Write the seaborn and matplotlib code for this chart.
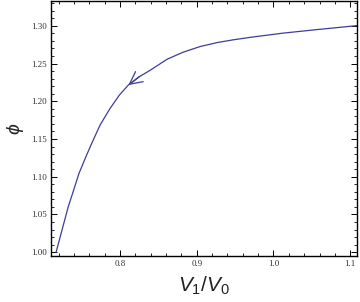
import numpy as np
import pandas as pd
import matplotlib
matplotlib.use("Agg")
import matplotlib.pyplot as plt
import seaborn as sns
from matplotlib.ticker import MultipleLocator

sns.set_theme(style="ticks")
plt.rcParams["mathtext.fontset"] = "custom"
plt.rcParams["mathtext.it"] = "Liberation Sans:italic"
plt.rcParams["mathtext.rm"] = "Liberation Sans"

# values
v_ratio = [0.7166, 0.7322, 0.7465, 0.7563, 0.7639, 0.7739, 0.7870, 0.7991,
           0.8108, 0.8250, 0.8391, 0.8613, 0.8821, 0.9043, 0.9265, 0.9473,
           0.9695, 1.0125, 1.0568, 1.1103]
phi = [1.000, 1.0593, 1.1045, 1.1285, 1.1461, 1.1684, 1.1906, 1.2082,
       1.2215, 1.2325, 1.2410, 1.2557, 1.2650, 1.2725, 1.2778, 1.2814,
       1.2847, 1.2903, 1.2950, 1.3004]
arrow_tip = (0.8108, 1.2215)
arrow_tail = (0.8250, 1.2325)

df = pd.DataFrame({"V": v_ratio, "phi": phi})
line_color = "#3d3d99"

fig = plt.figure(figsize=(3.6, 3.02), dpi=100)
ax = fig.add_axes([0.1417, 0.1523, 0.8503, 0.8447])
sns.lineplot(data=df, x="V", y="phi", sort=False, color=line_color, lw=0.9, ax=ax)
ax.annotate("", xy=arrow_tip, xytext=arrow_tail,
            arrowprops=dict(arrowstyle="->,head_length=0.75,head_width=0.38",
                            color=line_color, lw=0.9, shrinkA=0, shrinkB=0))

ax.set_xlim(0.71, 1.109)
ax.set_ylim(0.995, 1.333)
ax.xaxis.set_minor_locator(MultipleLocator(0.02))
ax.yaxis.set_minor_locator(MultipleLocator(0.01))
ax.set_xticks([0.8, 0.9, 1.0, 1.1])
ax.set_xticklabels(["0.8", "0.9", "1.0", "1.1"])
ax.set_yticks([1.00, 1.05, 1.10, 1.15, 1.20, 1.25, 1.30])
ax.set_yticklabels(["1.00", "1.05", "1.10", "1.15", "1.20", "1.25", "1.30"])
ax.tick_params(which="both", direction="in", top=True, right=True, colors="black",
               labelsize=6.5, pad=3)
ax.tick_params(which="major", length=4, width=0.7)
ax.tick_params(which="minor", length=2, width=0.6)
for lab in ax.get_xticklabels() + ax.get_yticklabels():
    lab.set_family("Liberation Serif")
    lab.set_color("#333333")
for sp in ax.spines.values():
    sp.set_color("black")
    sp.set_linewidth(1.0)

ax.set_xlabel("$V_1/V_0$", fontsize=15, color="#222222", labelpad=5)
ax.set_ylabel("$\\phi$", fontsize=14, color="#222222", labelpad=4)

fig.savefig("out.png", dpi=100)
